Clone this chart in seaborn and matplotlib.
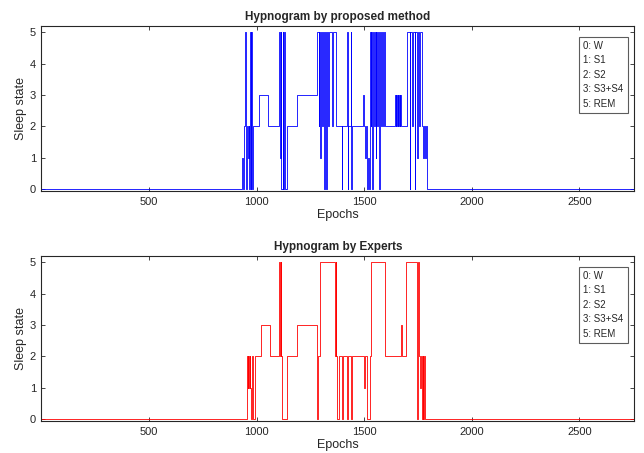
import numpy as np
import pandas as pd
import seaborn as sns
import matplotlib.pyplot as plt
from matplotlib.lines import Line2D

##############################################################################

# change points (epoch where a new state starts) and the state from there on
auto_epochs = [1, 931, 937, 940, 944, 947, 950, 953, 956, 960, 963, 966, 969,
               972, 975, 978, 981, 985, 1011, 1054, 1106, 1109, 1112, 1115,
               1122, 1125, 1128, 1131, 1140, 1186, 1279, 1288, 1291, 1297,
               1300, 1306, 1309, 1313, 1316, 1322, 1324, 1327, 1334, 1337,
               1352, 1355, 1368, 1395, 1399, 1422, 1424, 1427, 1437, 1440,
               1443, 1496, 1500, 1503, 1508, 1513, 1518, 1522, 1525, 1530,
               1533, 1538, 1541, 1546, 1549, 1553, 1556, 1560, 1563, 1570,
               1573, 1578, 1582, 1587, 1590, 1597, 1643, 1646, 1649, 1652,
               1655, 1658, 1661, 1665, 1668, 1673, 1697, 1712, 1715, 1722,
               1725, 1735, 1738, 1745, 1748, 1757, 1761, 1768, 1772, 1776,
               1783, 1787, 1790, 2755]
auto_states = [0, 1, 0, 1, 2, 5, 2, 0, 2, 1, 2, 0, 5,
               0, 5, 2, 0, 2, 3, 2, 5, 1, 5, 0,
               5, 0, 5, 0, 2, 3, 5, 2, 5, 1,
               5, 2, 5, 0, 5, 2, 0, 5, 2, 5,
               2, 5, 2, 0, 2, 5, 0, 2, 5, 0,
               2, 3, 2, 1, 2, 0, 1, 0, 5, 2,
               5, 0, 5, 2, 5, 1, 5, 2, 5, 0,
               5, 2, 5, 2, 5, 2, 3, 2, 3, 2,
               3, 2, 3, 2, 3, 2, 5, 0, 5, 2,
               5, 0, 5, 1, 5, 2, 5, 2, 1, 2,
               1, 2, 0, 0]

expert_epochs = [1, 954, 959, 962, 965, 968, 971, 974, 977, 985, 993, 1020,
                 1062, 1106, 1109, 1112, 1115, 1117, 1140, 1186, 1279, 1284,
                 1295, 1364, 1367, 1371, 1375, 1384, 1397, 1403, 1419, 1425,
                 1437, 1443, 1499, 1505, 1514, 1527, 1533, 1597, 1670, 1675,
                 1694, 1744, 1750, 1756, 1760, 1764, 1768, 1771, 1775, 1778,
                 1782, 1790, 2755]
expert_states = [0, 2, 1, 2, 1, 2, 1, 0, 2, 0, 2, 3,
                 2, 5, 2, 5, 2, 0, 2, 3, 0, 2,
                 5, 2, 5, 2, 0, 2, 0, 2, 0, 2,
                 0, 2, 1, 2, 0, 2, 5, 2, 3, 2,
                 5, 0, 5, 2, 1, 2, 0, 2, 0, 2,
                 0, 0, 0]

legend_labels = ["0: W", "1: S1", "2: S2", "3: S3+S4", "5: REM"]
titles = ["Hypnogram by proposed method", "Hypnogram by Experts"]

##############################################################################

sns.set_style("ticks")
plt.rcParams['font.family'] = ['Liberation Sans', 'DejaVu Sans']

fig = plt.figure(figsize=(6.44, 4.53), dpi=100)
ax1 = fig.add_axes([0.0644, 0.5784, 0.9206, 0.3642])
ax2 = fig.add_axes([0.0644, 0.0706, 0.9206, 0.3643])

panels = [(ax1, auto_epochs, auto_states, (0, 0, 1), titles[0]),
          (ax2, expert_epochs, expert_states, (1, 0, 0), titles[1])]

for ax, ep, st, col, ttl in panels:
    df = pd.DataFrame({"Epochs": ep, "state": st})
    sns.lineplot(data=df, x="Epochs", y="state", estimator=None, sort=False,
                 drawstyle="steps-post", color=col, lw=0.6, ax=ax)
    ax.set_xlim(1, 2755)
    ax.set_ylim(-0.064, 5.2)
    ax.set_xticks([500, 1000, 1500, 2000, 2500])
    ax.set_yticks([0, 1, 2, 3, 4, 5])
    ax.tick_params(direction="in", top=True, right=True, length=3,
                   width=0.6, labelsize=8, colors="#262626", pad=4)
    for s in ax.spines.values():
        s.set_color("#262626")
        s.set_linewidth(0.8)
    ax.set_title(ttl, fontsize=8.5, fontweight="bold", pad=4)
    ax.set_xlabel("Epochs", fontsize=9, labelpad=1.5, color="#262626")
    ax.set_ylabel("Sleep state", fontsize=9, labelpad=2, color="#262626")
    handles = [Line2D([], [], lw=0) for _ in legend_labels]
    leg = ax.legend(handles, legend_labels, loc="upper right",
                    bbox_to_anchor=(0.9975, 0.965), fontsize=7,
                    handlelength=0, handletextpad=0, frameon=True,
                    fancybox=False, borderpad=0.45, labelspacing=0.45,
                    edgecolor="#333333")
    leg.get_frame().set_linewidth(0.8)

fig.savefig("out.png", dpi=100)
